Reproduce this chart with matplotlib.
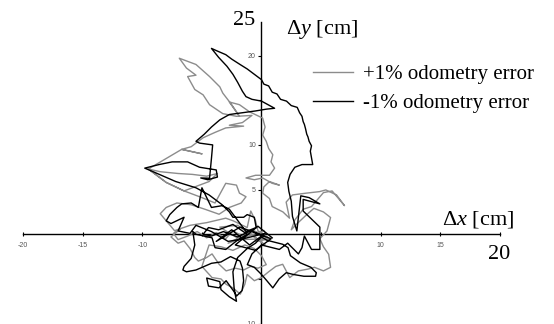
import numpy as np
import matplotlib
matplotlib.use("Agg")
import matplotlib.pyplot as plt

plt.rcParams['mathtext.fontset'] = 'custom'
plt.rcParams['mathtext.rm'] = 'Liberation Serif'
plt.rcParams['mathtext.it'] = 'Liberation Serif:italic'

# -1% odometry error trajectory (dx, dy in cm)
minus_x = [0.2, -0.9, -2.0, -3.2, -4.2, -4.9, -4.45, -3.6, -2.4, -1.2, -2.1, -3.0, -3.9, -4.15, -5.5,
           -5.76, -5.6, -5.9, -6.5, -6.6, -6.3, -5.5, -4.2, -3.4, -2.6, -1.8, -1.6, -1.5, -1.63, -2.08,
           -2.37, -2.97, -3.56, -4.45, -4.6, -3.5, -3.4, -2.7, -2.1, -2.3, -2.4, -2.0, -1.2, -0.5, 0.0,
           0.45, 1.78, 2.23, 2.43, 3.26, 4.15, 4.6, 4.54, 3.56, 2.67, 2.08, 1.48, 0.95, 0.45, 0.0,
           -0.6, -1.19, -0.8, 0.0, 1.5, 2.2, 3.1, 3.4, 3.6, 4.2, 4.9, 4.9, 4.9, 3.5, 3.5,
           4.9, 4.0, 3.3, 2.97, 2.6, 2.5, 2.3, 2.2, 2.4, 2.8, 3.4, 4.3, 4.1, 4.2, 4.0, 3.9, 3.8,
           3.7, 3.6, 3.5, 3.4, 3.2, 3.0, 2.5, 2.1, 1.6, 1.3, 0.9, 0.6, 0.2, 0.0, -0.6, -1.2, -1.8, -2.5,
           -3.0, -3.7, -4.2, -3.6,
           -2.9, -2.4, -2.0, -1.6, -1.3, -0.8, 0.0, 1.1, 0.4, -0.5, -1.6, -2.7, -3.5, -4.2, -4.8,
           -5.5, -5.2, -4.1, -4.2, -4.36, -5.1, -4.5, -3.7, -3.8, -5.2, -6.2, -7.5, -8.6, -9.8, -9.1,
           -7.2, -5.5, -4.4, -3.3, -2.7, -2.4, -1.5, -1.2, -0.6, -0.45, -1.3, -2.7, -3.3, -4.2, -5.0,
           -5.3, -5.9, -6.7, -7.1, -7.7, -8.0, -7.6, -6.5, -7.0, -6.0, -5.5, -4.2, -2.8, -1.5, 0.3,
           -1.0, -2.5, -3.8, -1.8, 0.8, -0.5, -2.2, -0.3, 0.9]
minus_y = [-0.2, 0.4, -0.3, 0.3, -0.2, 0.0, 0.75, 0.5, 1.1, 0.0, -0.75, -1.7, -1.5, -0.4, 0.0,
           0.3, -1.2, -2.7, -3.6, -4.0, -4.2, -4.0, -3.25, -3.1, -2.5, -3.0, -3.8, -5.2, -6.3, -6.9,
           -6.3, -5.2, -6.0, -5.8, -4.9, -5.3, -6.2, -7.0, -7.5, -6.0, -4.2, -2.6, -1.6, -1.0, -0.3,
           -0.67, -1.12, -1.5, -2.4, -3.2, -3.7, -4.3, -4.7, -4.7, -4.5, -4.3, -5.0, -6.0, -5.2, -4.5,
           -3.7, -3.4, -2.2, -1.2, -1.7, -1.0, -2.2, -1.5, -0.2, -1.7, -1.7, -0.7, 0.8, 2.6, 3.9,
           3.4, 4.1, 4.3, 0.37, 2.0, 3.7, 4.8, 5.8, 6.7, 7.5, 7.8, 7.8, 9.3, 9.9, 10.4, 10.9, 11.2,
           11.8, 12.3, 12.6, 13.2, 13.6, 14.2, 14.4, 14.9, 15.1, 15.7, 15.9, 16.6, 16.8, 17.3, 17.9, 18.5, 19.0, 19.6,
           20.1, 20.5, 20.8, 19.8,
           18.8, 17.9, 17.0, 16.0, 15.4, 15.1, 14.9, 14.1, 14.0, 13.8, 13.6, 13.4, 12.8, 12.0, 11.2,
           10.4, 10.2, 10.0, 8.5, 6.27, 6.3, 6.1, 6.4, 7.2, 7.5, 8.1, 8.1, 7.8, 7.4, 7.0,
           5.9, 5.2, 4.4, 3.3, 2.5, 1.9, 1.9, 2.2, 1.9, 0.75, 0.3, 2.8, 3.2, 3.0, 5.2,
           3.0, 3.5, 3.4, 3.0, 2.2, 1.5, 1.2, 1.9, 0.37, 0.1, 1.0, 0.3, -0.8, -0.5, 0.1,
           -1.2, 0.5, -0.8, 0.8, -0.5, -1.8, -1.2, 0.9, -0.4]

# +1% odometry error trajectory (dx, dy in cm)
plus_x = [0.0, -0.8, -1.5, -2.4, -3.0, -3.8, -4.6, -5.4, -6.2, -7.0, -7.4, -6.8, -7.6, -7.0, -6.5,
          -6.0, -5.6, -5.3, -4.6, -4.15, -3.56, -2.97, -2.2, -1.5, -0.9, -0.3, 0.4, 0.0, -0.6, -1.4,
          -2.4, -3.4, -4.4, -5.0, -4.15, -3.4, -2.97, -2.4, -1.78, -1.4, -1.2, -0.6, 0.0, 0.6, 1.2,
          1.78, 2.37, 3.1, 3.9, 4.45, 5.2, 5.8, 5.64, 5.2, 4.9, 5.5, 5.8, 5.2, 4.4, 3.8,
          3.0, 2.5, 2.8, 3.5, 4.2, 5.2, 5.93, 6.97, 6.3, 5.4, 4.87, 3.75, 2.6, 2.07, 2.35,
          1.8, 0.9, 0.67, 0.1, 0.2, 0.67, 1.5, 0.9, 0.1, -0.6, -1.3, -0.5, 0.67, 1.1, 0.8,
          0.95, 0.6, 0.4, 0.1, 0.3, 0.1, -1.0, -1.85, -2.7, -1.85, -2.5, -3.25, -3.5, -4.36, -5.5,
          -6.9, -6.3, -5.5, -6.2, -5.6, -4.9, -4.36, -3.25, -2.1, -0.8, -1.6, -2.7, -1.5, -3.0, -3.9,
          -4.9, -5.9, -6.7, -5.0, -6.7, -9.5, -8.5, -7.0, -5.8, -4.6, -3.7, -4.4, -6.5, -8.0, -9.5,
          -8.0, -6.5, -5.0, -3.9, -3.0, -2.1, -1.85, -1.3, -1.7, -2.7, -3.56, -4.75, -5.9, -7.1, -8.0,
          -8.5, -7.8, -7.3, -6.0, -4.6, -3.0, -2.37, -1.2, -0.9, -0.5, -0.3, 0.5, -0.5, 0.8,
          -1.8, -3.5, -2.0, 0.3, -1.0, -2.8, 0.2]
plus_y = [0.0, 0.5, -0.3, 0.4, -0.5, 0.2, -0.4, 0.3, -0.2, -0.6, 0.1, 0.6, -0.3, -1.0, -0.75,
          -1.6, -2.6, -3.0, -2.6, -2.2, -3.36, -4.1, -3.8, -4.0, -3.6, -3.8, -3.4, -2.4, -1.6, -1.2,
          -1.8, -1.4, -1.2, -3.6, -4.85, -5.0, -5.6, -6.0, -6.7, -5.6, -4.5, -5.2, -4.85, -4.2, -3.6,
          -3.36, -4.85, -4.1, -3.9, -3.7, -4.1, -3.7, -2.24, -1.4, -0.5, 0.37, 1.87, 2.5, 2.9, 2.2,
          1.2, 0.5, 1.6, 2.8, 3.1, 4.66, 4.85, 3.2, 4.4, 4.96, 4.77, 4.6, 4.4, 3.6, 1.8,
          2.5, 3.1, 4.0, 4.6, 5.3, 5.9, 5.5, 5.7, 6.3, 6.1, 6.3, 6.6, 6.6, 7.4, 8.1,
          8.9, 9.6, 10.4, 11.1, 12.0, 13.0, 13.7, 14.5, 14.8, 13.2, 14.5, 15.8, 16.5, 17.65, 19.0,
          19.7, 18.6, 17.8, 17.65, 16.2, 15.6, 14.5, 13.5, 13.2, 13.3, 12.5, 12.2, 12.1, 11.9, 11.4,
          10.8, 9.8, 9.5, 9.0, 9.5, 7.3, 7.0, 6.8, 6.7, 6.5, 6.8, 5.9, 4.85, 5.8, 7.3,
          5.8, 4.85, 4.1, 3.5, 5.7, 5.5, 4.6, 4.2, 3.5, 3.0, 2.24, 2.8, 3.3, 3.5, 3.0,
          2.3, 1.2, 0.4, 1.0, 1.3, 1.8, 1.5, 0.75, 2.6, 1.5, 0.4, -0.3, -0.8, -0.5,
          -0.6, 0.8, 1.0, -1.2, 0.2, -1.0, 0.4]

x_ticks = [-20, -15, -10, -5, 0, 5, 10, 15, 20]
x_labels = ['-20', '-15', '-10', '', '', '', '10', '15', '']
y_ticks = [-10, -5, 0, 5, 10, 15, 20]
y_labels = ['-10', '', '', '5', '10', '', '20']

fig = plt.figure(figsize=(5.54, 3.24), dpi=100)
ax = fig.add_axes([0.042, 0.0012, 0.860, 0.9294])

ax.plot(plus_x, plus_y, color='#8c8c8c', linewidth=1.0, zorder=3, label='+1% odometry error')
ax.plot(minus_x, minus_y, color='black', linewidth=1.0, zorder=4, label='-1% odometry error')

ax.set_xlim(-20, 20)
ax.set_ylim(-10, 23.7)

# axes crossing at the origin
ax.spines['left'].set_position(('data', 0))
ax.spines['bottom'].set_position(('data', 0))
ax.spines['right'].set_visible(False)
ax.spines['top'].set_visible(False)
ax.spines['left'].set_linewidth(1.0)
ax.spines['bottom'].set_linewidth(1.0)

ax.set_xticks(x_ticks)
ax.set_xticklabels(x_labels)
ax.set_yticks(y_ticks)
ax.set_yticklabels(y_labels)
ax.tick_params(axis='x', direction='inout', length=3, width=0.8, labelsize=5, labelcolor='#555555', pad=4)
ax.tick_params(axis='y', direction='out', length=2, width=0.8, labelsize=5, labelcolor='#555555', pad=2)
for lab in ax.get_xticklabels() + ax.get_yticklabels():
    lab.set_family('Liberation Sans')

serif = 'Liberation Serif'
fig.text(0.44, 0.938, '25', fontsize=16, family=serif, ha='center', va='center')
fig.text(0.516, 0.910, r'$\Delta$$y$ [cm]', fontsize=16, family=serif, ha='left', va='center')
fig.text(0.798, 0.324, r'$\Delta$$x$ [cm]', fontsize=16, family=serif, ha='left', va='center')
fig.text(0.901, 0.213, '20', fontsize=16, family=serif, ha='center', va='center')

ax.legend(loc='upper left', bbox_to_anchor=(0.565, 0.80), bbox_transform=fig.transFigure,
          frameon=False, prop={'family': serif, 'size': 15}, handlelength=1.9,
          handletextpad=0.5, labelspacing=0.45, borderpad=0, borderaxespad=0)

fig.savefig('out.png', dpi=100)
